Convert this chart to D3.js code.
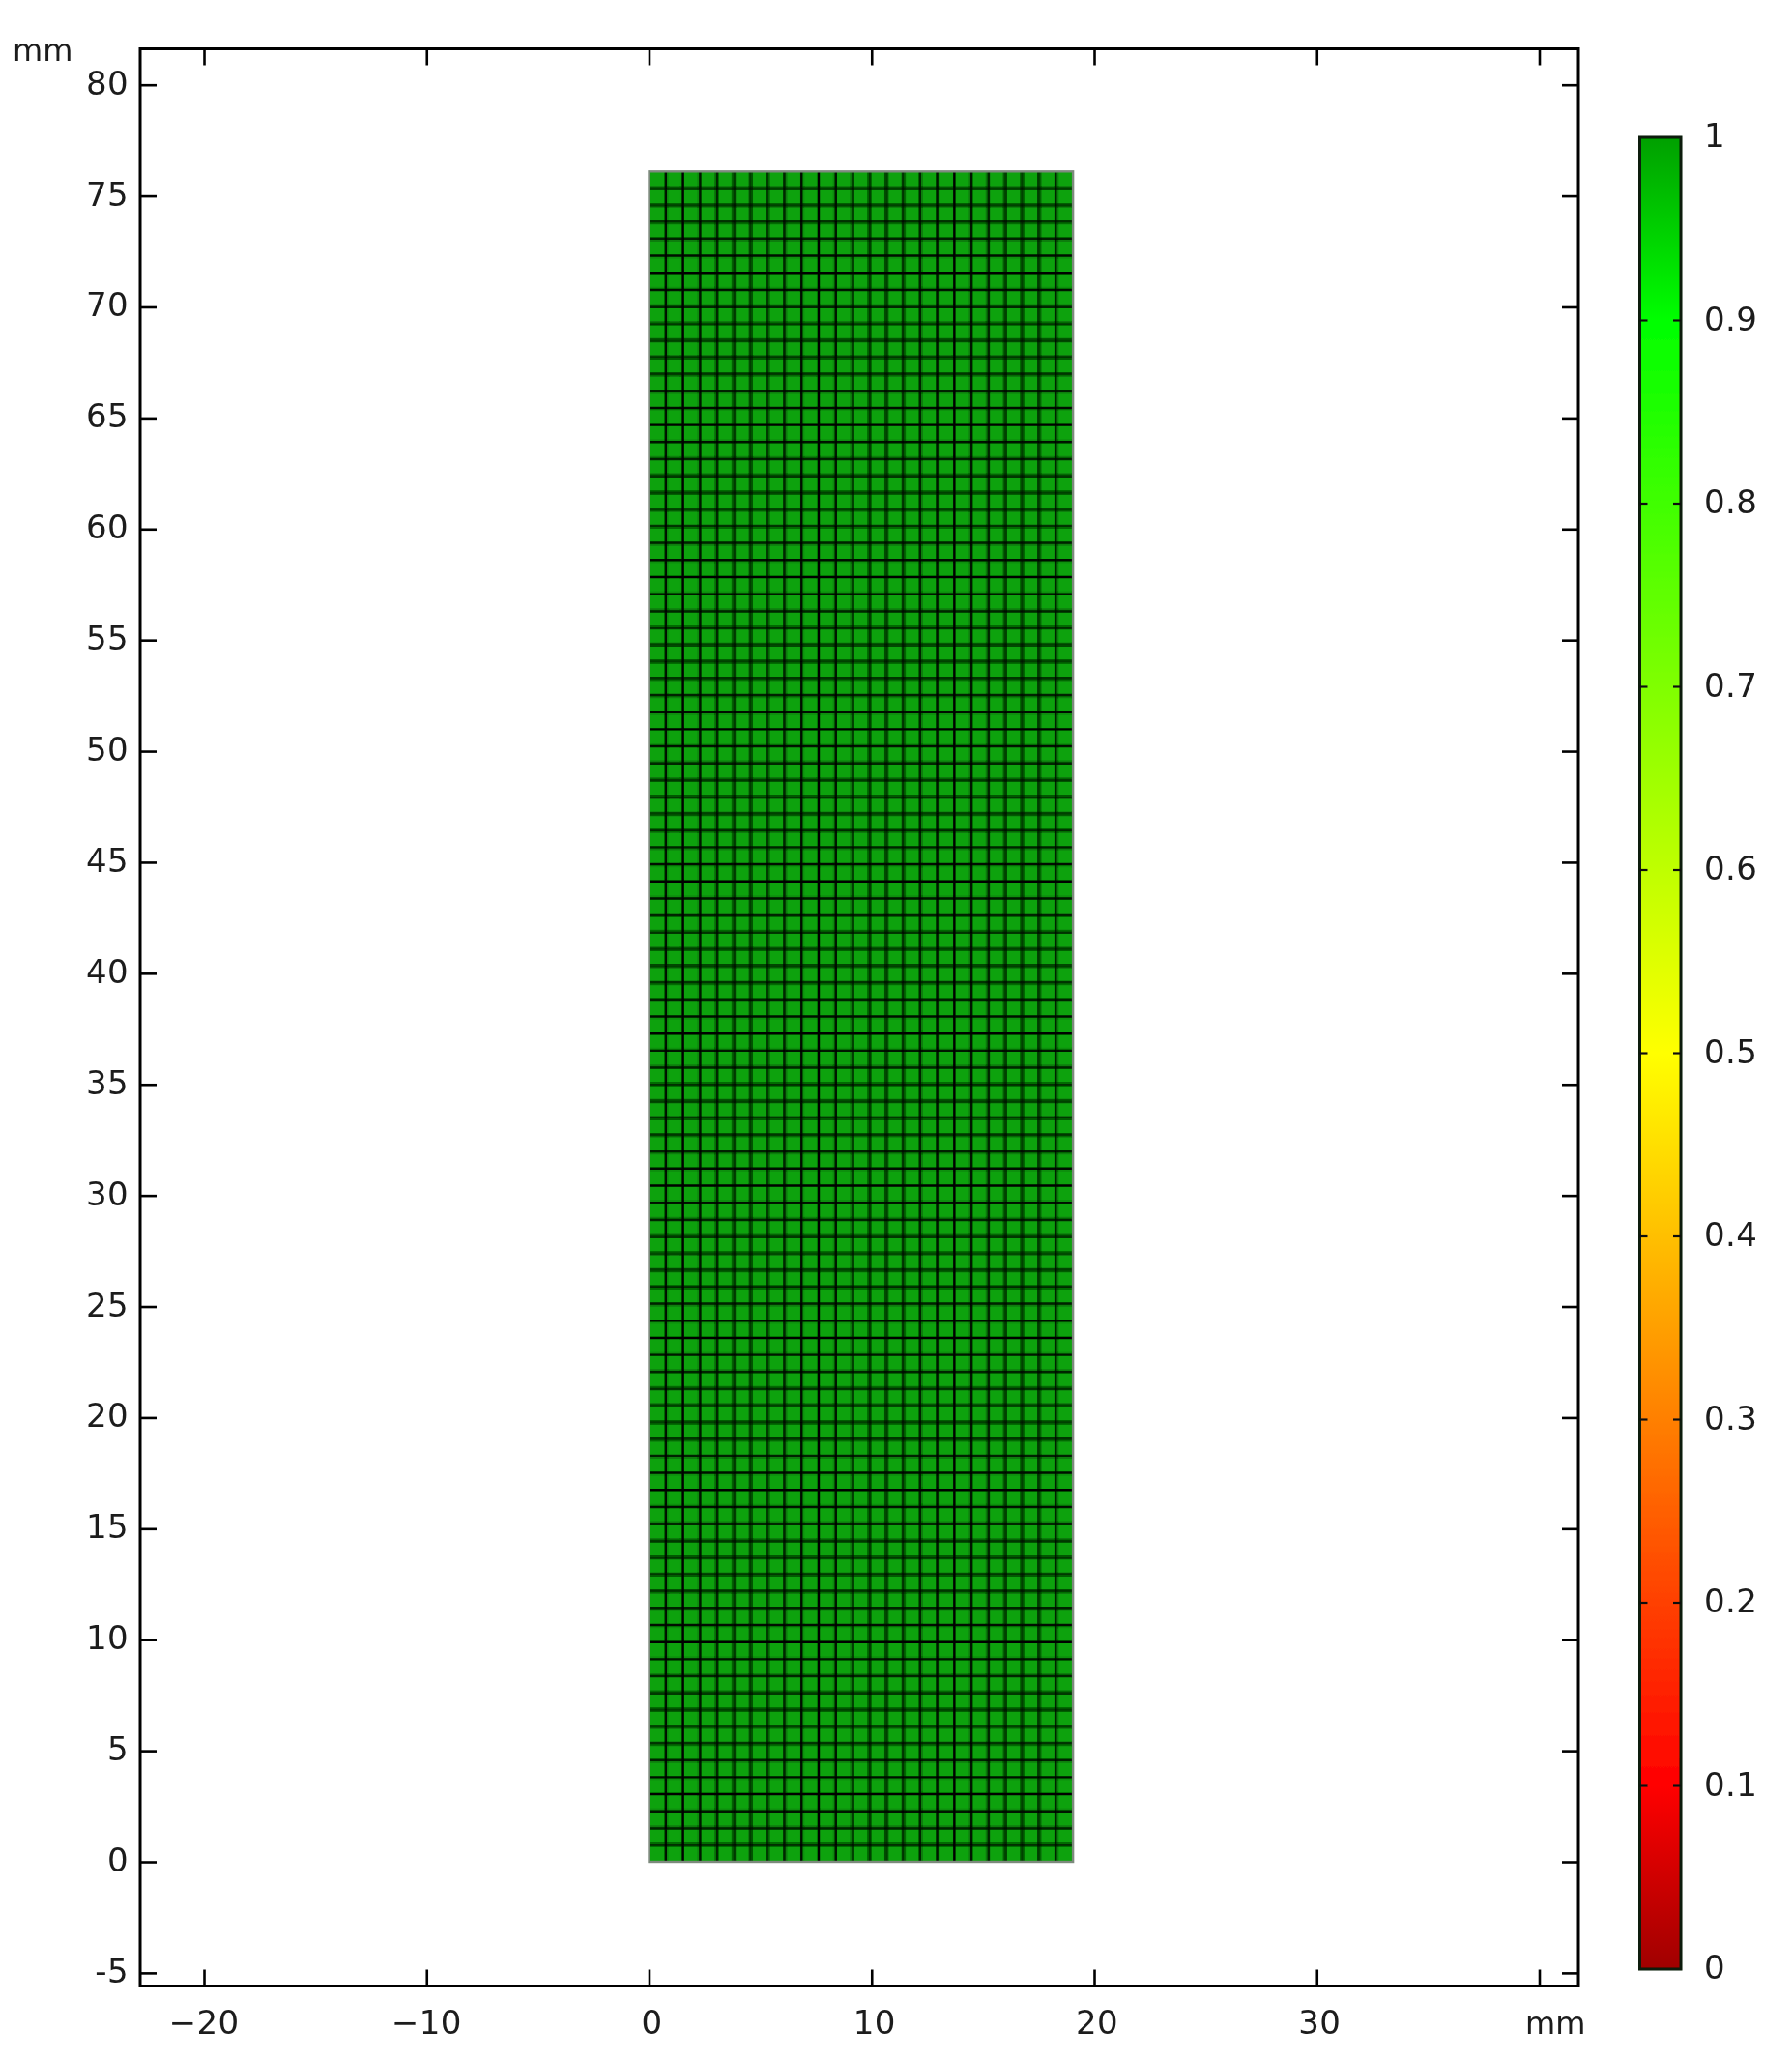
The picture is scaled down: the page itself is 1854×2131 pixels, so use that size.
<!DOCTYPE html>
<html><head><meta charset="utf-8">
<script src="https://cdnjs.cloudflare.com/ajax/libs/d3/7.8.5/d3.min.js"></script>
<style>
html,body{margin:0;padding:0;background:#fff}
svg{display:block}
text{font-family:"DejaVu Sans";font-size:34px;fill:#1c1c1c;letter-spacing:.4px}
text.unit{font-size:32px;letter-spacing:0}
</style></head><body>
<svg id="c" width="1854" height="2131"></svg>
<script>
const xTicks=[-20,-10,0,10,20,30,40];
const yTicks=[-5,0,5,10,15,20,25,30,35,40,45,50,55,60,65,70,75,80];
const colorTicks=[0,0.1,0.2,0.3,0.4,0.5,0.6,0.7,0.8,0.9,1];
const colorStops=[[0,"#a00000"],[0.1,"#ff0000"],[0.5,"#ffff00"],[0.9,"#00ff00"],[1,"#00a000"]];
const sampleWidth=19.05, sampleHeight=76.1, meshColumns=25, meshRows=100;
const sampleFill="#0aa20a";

const svg=d3.select("#c");
const defs=svg.append("defs");
const soft=(id,s)=>defs.append("filter").attr("id",id).attr("filterUnits","userSpaceOnUse")
  .attr("x",0).attr("y",0).attr("width",1854).attr("height",2131)
  .append("feGaussianBlur").attr("stdDeviation",s);
soft("soft",0.7); soft("softText",0.35);
const root=svg.append("g").attr("filter","url(#soft)");

const L=145,R=1633,T=50.5,B=2054.5;
const x=d3.scaleLinear().domain([0,20]).range([671.5,1132]);
const y=d3.scaleLinear().domain([0,80]).range([1926,87.7]);
const cbar=d3.scaleLinear().domain([0,1]).range([2037,142]);

root.append("rect").attr("x",x(0)).attr("y",y(sampleHeight)).attr("width",x(sampleWidth)-x(0)).attr("height",y(0)-y(sampleHeight))
  .attr("fill",sampleFill);

// the mesh was rasterised on a coarser pixel grid and enlarged, so each line either
// lands on one coarse pixel (thin, black) or splits over two (wide, dark green)
function coarse(values,scale,origin,cell){
  const out=[];
  values.forEach(v=>{
    const u=(scale(v)-origin)/cell,k=Math.round(u),t=u-k;
    out.push({p:origin+k*cell,w:1-Math.abs(t)});
    if(t!==0)out.push({p:origin+(k+Math.sign(t))*cell,w:Math.abs(t)});
  });
  return out;
}
const gx=d3.range(meshColumns+1).map(i=>i*sampleWidth/meshColumns).slice(1,-1);
const gy=d3.range(meshRows+1).map(i=>i*sampleHeight/meshRows).slice(1,-1);
const pitchX=x(sampleWidth/meshColumns)-x(0), pitchY=y(0)-y(sampleHeight/meshRows);
const cellX=pitchX/(9-1/8), cellY=pitchY/(9-1/9);
const vx=coarse(gx,x,760,cellX), hy=coarse(gy,y,675.7,cellY);
root.append("g").selectAll("line").data(vx).join("line")
  .attr("x1",d=>d.p).attr("x2",d=>d.p).attr("y1",y(sampleHeight)).attr("y2",y(0))
  .attr("stroke","#000").attr("stroke-opacity",d=>d.w).attr("stroke-width",cellX*1.25);
root.append("g").selectAll("line").data(hy).join("line")
  .attr("y1",d=>d.p).attr("y2",d=>d.p).attr("x1",x(0)).attr("x2",x(sampleWidth))
  .attr("stroke","#000").attr("stroke-opacity",d=>d.w).attr("stroke-width",cellY*1.25);
root.append("rect").attr("x",x(0)).attr("y",y(sampleHeight)).attr("width",x(sampleWidth)-x(0)).attr("height",y(0)-y(sampleHeight))
  .attr("fill","none").attr("stroke","#7d8a7d").attr("stroke-width",2.4);

const sz=-17;
function clean(g){g.select(".domain").remove();g.selectAll(".tick line").attr("stroke","#000").attr("stroke-width",2.6);}
const fmtX=d=>d<0?"\u2212"+(-d):String(d);
root.append("g").attr("transform",`translate(0,${B})`)
  .call(d3.axisBottom(x).tickValues(xTicks).tickSize(sz).tickFormat("")).call(clean);
root.append("g").attr("transform",`translate(0,${T})`)
  .call(d3.axisTop(x).tickValues(xTicks).tickSize(sz).tickFormat("")).call(clean);
root.append("g").attr("transform",`translate(${L},0)`)
  .call(d3.axisLeft(y).tickValues(yTicks).tickSize(sz).tickFormat("")).call(clean);
root.append("g").attr("transform",`translate(${R},0)`)
  .call(d3.axisRight(y).tickValues(yTicks).tickSize(sz).tickFormat("")).call(clean);
root.append("rect").attr("x",L).attr("y",T).attr("width",R-L).attr("height",B-T)
  .attr("fill","none").attr("stroke","#000").attr("stroke-width",3);

const lab=svg.append("g").attr("filter","url(#softText)");
lab.selectAll(".xl").data(xTicks.slice(0,-1)).join("text").attr("class","xl")
  .attr("x",d=>x(d)+(d<0?0:3)).attr("y",2104).attr("text-anchor","middle").text(fmtX);
lab.selectAll(".yl").data(yTicks).join("text").attr("class","yl")
  .attr("x",133).attr("y",d=>y(d)+10).attr("text-anchor","end").text(d=>String(d));
lab.append("text").attr("class","unit").attr("x",13).attr("y",63).text("mm");
lab.append("text").attr("class","unit").attr("x",1578).attr("y",2104).text("mm");

const grad=defs.append("linearGradient").attr("id","cb").attr("x1",0).attr("x2",0).attr("y1",1).attr("y2",0);
grad.selectAll("stop").data(colorStops).join("stop").attr("offset",d=>d[0]).attr("stop-color",d=>d[1]);
const cx0=1696.5,cx1=1739;
root.append("rect").attr("x",cx0).attr("y",cbar(1)).attr("width",cx1-cx0).attr("height",cbar(0)-cbar(1))
  .attr("fill","url(#cb)").attr("stroke","#0a1a0a").attr("stroke-width",3);
const cb=root.append("g");
cb.selectAll(".a").data(colorTicks.slice(1,-1)).join("line").attr("class","a")
  .attr("x1",cx0).attr("x2",cx0+8).attr("y1",d=>cbar(d)).attr("y2",d=>cbar(d)).attr("stroke","#111").attr("stroke-width",2.2);
cb.selectAll(".b").data(colorTicks.slice(1,-1)).join("line").attr("class","b")
  .attr("x1",cx1-8).attr("x2",cx1).attr("y1",d=>cbar(d)).attr("y2",d=>cbar(d)).attr("stroke","#111").attr("stroke-width",2.2);
lab.selectAll(".cl").data(colorTicks).join("text").attr("class","cl")
  .attr("x",1763).attr("y",d=>cbar(d)+10).text(d=>String(d));
</script>
</body></html>
